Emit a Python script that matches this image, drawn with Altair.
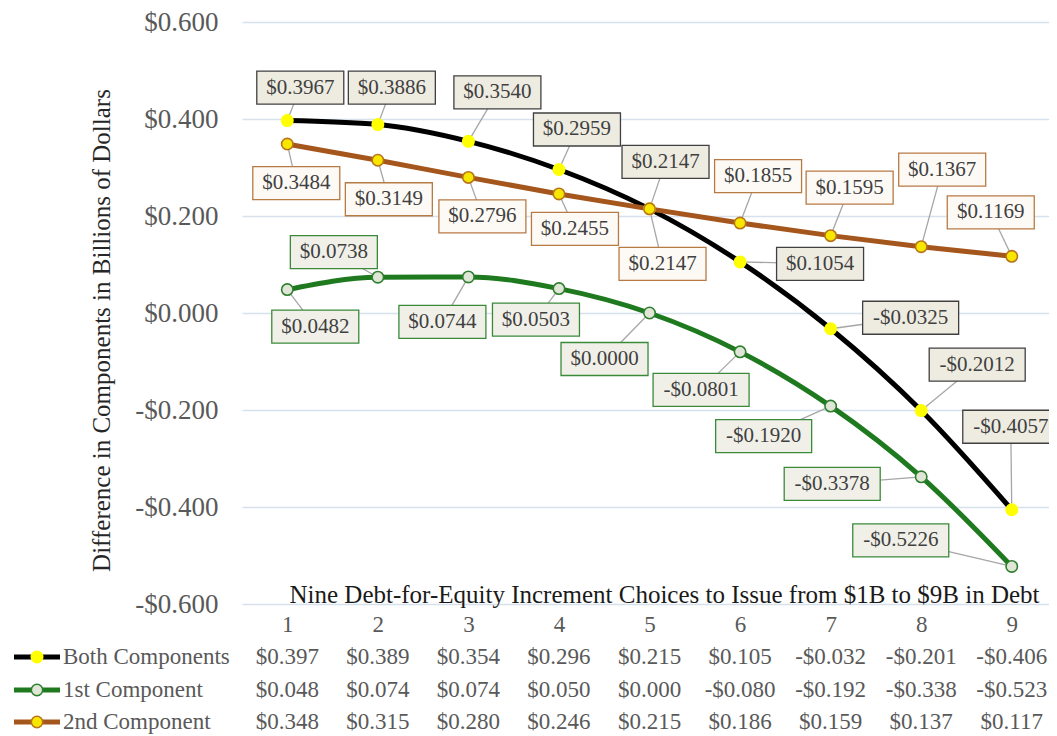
import altair as alt
import pandas as pd

# ---------------- data ----------------
increments = [1, 2, 3, 4, 5, 6, 7, 8, 9]
series_names = ["Both Components", "1st Component", "2nd Component"]
both_vals = [0.3967, 0.3886, 0.3540, 0.2959, 0.2147, 0.1054, -0.0325, -0.2012, -0.4057]
first_vals = [0.0482, 0.0738, 0.0744, 0.0503, 0.0000, -0.0801, -0.1920, -0.3378, -0.5226]
second_vals = [0.3484, 0.3149, 0.2796, 0.2455, 0.2147, 0.1855, 0.1595, 0.1367, 0.1169]
table_both = [0.397, 0.389, 0.354, 0.296, 0.215, 0.105, -0.032, -0.201, -0.406]
table_first = [0.048, 0.074, 0.074, 0.050, 0.000, -0.080, -0.192, -0.338, -0.523]
table_second = [0.348, 0.315, 0.280, 0.246, 0.215, 0.186, 0.159, 0.137, 0.117]
y_ticks = [-0.6, -0.4, -0.2, 0.0, 0.2, 0.4, 0.6]
x_title = "Nine Debt-for-Equity Increment Choices to Issue from $1B to $9B in Debt"
y_title = "Difference in Components in Billions of Dollars"

# ---------------- layout / style ----------------
UNIT_PX = 90.56            # pixels per increment step
W, H = 807, 582
XDOM = [0.5, 0.5 + W / UNIT_PX]
YDOM = [-0.6, 0.6]
PX_X = UNIT_PX
PX_Y = H / (YDOM[1] - YDOM[0])
FONT = "Liberation Serif"

# callout offsets (pixels, box centre relative to point)
off_both = [(13, -33), (14, -37), (29, -49), (18, -40), (16, -47), (80, 2), (80, -11), (56, -46), (-1, -83)]
off_first = [(28, 37), (-44, -25), (-26, 45), (-23, 31), (-45, 46), (-39, 38), (-67, 30), (-89, 7), (-111, -26)]
off_second = [(9, 39), (11, 39), (14, 39), (16, 35), (13, 55), (18, -47), (19, -48), (21, -77), (-21, -44)]

styles = {
    "Both Components": dict(line="#000000", mfill="#ffff00", mstroke="#ffff00",
                            bfill="#eeece1", bstroke="#404040"),
    "1st Component": dict(line="#1f7a1f", mfill="#dfe6d6", mstroke="#2f7f2f",
                          bfill="#f0f0e9", bstroke="#3a8a3a"),
    "2nd Component": dict(line="#a5561c", mfill="#f7e600", mstroke="#b8741a",
                          bfill="#fdfaf5", bstroke="#b87a45"),
}
series_vals = {"Both Components": both_vals, "1st Component": first_vals, "2nd Component": second_vals}
series_offs = {"Both Components": off_both, "1st Component": off_first, "2nd Component": off_second}
series_table = {"Both Components": table_both, "1st Component": table_first, "2nd Component": table_second}
table_rows_y = {"Both Components": 635, "1st Component": 668, "2nd Component": 700}

xaxis = alt.Axis(values=increments, grid=False, domain=False, ticks=False,
                 labelFont=FONT, labelFontSize=23, labelColor="#595959",
                 labelPadding=20, labelBaseline="middle",
                 title=x_title, titleFont=FONT, titleFontSize=25, titleFontWeight="normal",
                 titleColor="#1a1a1a", titleX=422, titleY=-2, titleBaseline="alphabetic",
                 titleAlign="center")
yaxis = alt.Axis(values=y_ticks, grid=True, gridColor="#d6e1ed", gridWidth=1.5,
                 domain=False, ticks=False, labelFont=FONT, labelFontSize=27,
                 labelColor="#595959", labelPadding=24,
                 labelExpr="(datum.value < -0.0001 ? '-$' : '$') + format(abs(datum.value), '.3f')",
                 title=y_title, titleFont=FONT, titleFontSize=25, titleFontWeight="normal",
                 titleColor="#262626", titleAngle=270, titleX=-141, titleY=308,
                 titleBaseline="middle", titleAlign="center")


def X(field):
    return alt.X(field, type="quantitative", scale=alt.Scale(domain=XDOM, nice=False, zero=False), axis=xaxis)


def Y(field):
    return alt.Y(field, type="quantitative", scale=alt.Scale(domain=YDOM, nice=False, zero=False), axis=yaxis)


fmt4 = "(datum.v < 0 ? '-$' : '$') + format(abs(datum.v), '.4f')"
fmt3 = "(datum.t < 0 ? '-$' : '$') + format(abs(datum.t), '.3f')"

leader_layers, line_layers, point_layers, box_layers, text_layers, table_layers = [], [], [], [], [], []

for name in series_names:
    st = styles[name]
    vals = series_vals[name]
    offs = series_offs[name]
    rows = []
    for x, v, (dx, dy) in zip(increments, vals, offs):
        lx = x + dx / PX_X
        ly = v - dy / PX_Y
        bw = 96 if v < 0 else 87
        bh = 33
        rows.append(dict(x=x, v=v, lx=lx, ly=ly,
                         bx0=lx - bw / 2 / PX_X, bx1=lx + bw / 2 / PX_X,
                         by0=ly - bh / 2 / PX_Y, by1=ly + bh / 2 / PX_Y))
    df = pd.DataFrame(rows)
    base = alt.Chart(df)

    leader_layers.append(base.mark_rule(color="#a6a6a6", strokeWidth=1.3).encode(
        x=X("x"), y=Y("v"), x2="lx", y2="ly"))
    line_layers.append(base.mark_line(color=st["line"], strokeWidth=5, interpolate="monotone").encode(
        x=X("x"), y=Y("v")))
    point_layers.append(base.mark_point(shape="circle", size=130, filled=True, fill=st["mfill"],
                                        stroke=st["mstroke"], strokeWidth=1.6, opacity=1).encode(
        x=X("x"), y=Y("v")))
    box_layers.append(base.mark_rect(fill=st["bfill"], stroke=st["bstroke"], strokeWidth=1.3).encode(
        x=X("bx0"), x2="bx1", y=Y("by0"), y2="by1"))
    text_layers.append(base.transform_calculate(lab=fmt4).mark_text(
        font=FONT, fontSize=21, color="#404040", align="center", baseline="middle").encode(
        x=X("lx"), y=Y("ly"), text="lab:N"))

    tdf = pd.DataFrame({"x": increments, "t": series_table[name]})
    ry = table_rows_y[name]
    table_layers.append(alt.Chart(tdf).transform_calculate(lab=fmt3).mark_text(
        font=FONT, fontSize=23, color="#595959", align="center", baseline="middle").encode(
        x=X("x"), y=alt.value(ry), text="lab:N"))

    ldf = pd.DataFrame({"name": [name]})
    lbase = alt.Chart(ldf)
    table_layers.append(lbase.mark_rule(color=st["line"], strokeWidth=5).encode(
        x=alt.value(-228), x2=alt.value(-182), y=alt.value(ry)))
    table_layers.append(lbase.mark_point(shape="circle", size=130, filled=True, fill=st["mfill"],
                                         stroke=st["mstroke"], strokeWidth=1.6, opacity=1).encode(
        x=alt.value(-205), y=alt.value(ry)))
    table_layers.append(lbase.mark_text(font=FONT, fontSize=23, color="#595959", align="left",
                                        baseline="middle").encode(
        x=alt.value(-179), y=alt.value(ry), text="name:N"))

chart = alt.layer(
    *leader_layers, *line_layers, *point_layers, *box_layers, *text_layers, *table_layers
).properties(
    width=W, height=H,
    autosize=alt.AutoSizeParams(type="none"),
    padding={"left": 234, "top": 14, "right": 0, "bottom": 134},
    background="white",
).configure_view(stroke=None)

chart.save("out.html", embed_options={"renderer": "svg", "actions": False})
